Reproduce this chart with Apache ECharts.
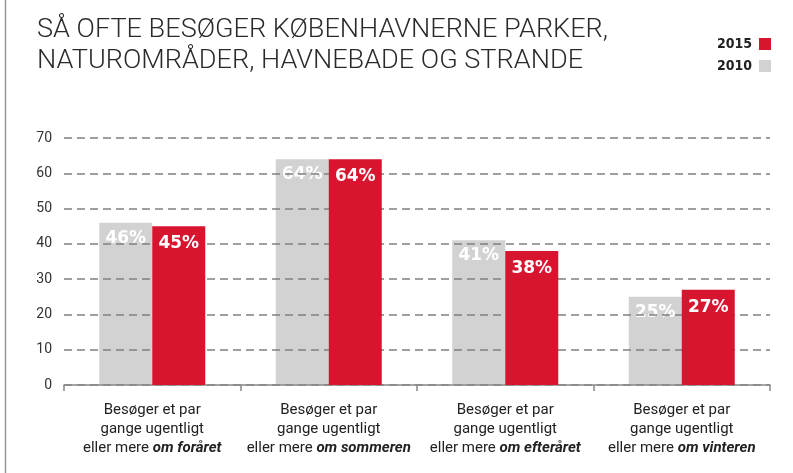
<!DOCTYPE html>
<html>
<head>
<meta charset="utf-8">
<script src="https://cdn.jsdelivr.net/npm/echarts@6/dist/echarts.min.js"></script>
<style>
  html, body { margin: 0; padding: 0; background: #fff; }
  #chart { width: 793px; height: 473px; }
</style>
</head>
<body>
<div id="chart"></div>
<script>
// data
const seasons = ['om foråret', 'om sommeren', 'om efteråret', 'om vinteren'];
const values2010 = [46, 64, 41, 25];
const values2015 = [45, 64, 38, 27];
const titleLines = ['SÅ OFTE BESØGER KØBENHAVNERNE PARKER,', 'NATUROMRÅDER, HAVNEBADE OG STRANDE'];

const RED = '#d7152f';
const GREY = '#d2d2d2';

// the original title uses a condensed face, so fit a normal one to its width
const ctx = document.createElement('canvas').getContext('2d');
const titleFont = '300 26px Roboto';
ctx.font = titleFont;
const titleScale = 571 / ctx.measureText(titleLines[0]).width;

const chart = echarts.init(document.getElementById('chart'));

const barLabel = (dist) => ({
  show: true,
  position: 'insideTop',
  distance: dist,
  formatter: '{c}%',
  color: '#fff',
  fontFamily: '"DejaVu Sans", sans-serif',
  fontWeight: 'bold',
  fontSize: 17
});

const graphics = [
  {
    type: 'line',
    shape: { x1: 5.5, y1: 0, x2: 5.5, y2: 473 },
    style: { stroke: '#999', lineWidth: 1.5 }
  }
];
titleLines.forEach((line, i) => {
  graphics.push({
    type: 'text',
    x: 37,
    y: i === 0 ? 30 : 61,
    scaleX: titleScale,
    style: {
      text: line,
      x: 0,
      y: 0,
      font: titleFont,
      fill: '#2a2a2a',
      textAlign: 'left',
      textVerticalAlign: 'middle'
    }
  });
});

chart.setOption({
  backgroundColor: '#fff',
  animation: false,
  graphic: graphics,
  legend: {
    right: 17,
    top: 32,
    orient: 'vertical',
    align: 'right',
    itemWidth: 12,
    itemHeight: 12,
    itemGap: 8,
    icon: 'rect',
    data: ['2015', '2010'],
    textStyle: {
      fontFamily: '"DejaVu Sans Condensed", sans-serif',
      fontWeight: 'bold',
      fontSize: 14,
      color: '#222',
      padding: [0, 2, 0, 0]
    }
  },
  grid: { left: 64, right: 23, top: 138, bottom: 88 },
  xAxis: {
    type: 'category',
    data: seasons,
    z: 3,
    axisLine: { lineStyle: { color: '#888', width: 1.5 } },
    axisTick: { show: true, length: 6, lineStyle: { color: '#888', width: 1.5 } },
    axisLabel: {
      margin: 16,
      interval: 0,
      formatter: (v) => 'Besøger et par\ngange ugentligt\neller mere {b|' + v + '}',
      fontFamily: 'Roboto, sans-serif',
      fontSize: 15,
      lineHeight: 19,
      color: '#222',
      rich: {
        b: {
          fontFamily: 'Roboto, sans-serif',
          fontSize: 15,
          lineHeight: 19,
          fontWeight: 'bold',
          fontStyle: 'italic',
          color: '#222'
        }
      }
    }
  },
  yAxis: {
    type: 'value',
    min: 0,
    max: 70,
    interval: 10,
    z: 3,
    axisLine: { show: false },
    axisTick: { show: false },
    axisLabel: {
      margin: 12,
      fontFamily: 'Roboto, sans-serif',
      fontSize: 14,
      color: '#333'
    },
    splitLine: {
      lineStyle: { color: '#808080', type: [8, 5], width: 1.5 }
    }
  },
  series: [
    {
      name: '2010',
      type: 'bar',
      data: values2010,
      barWidth: 53,
      barGap: '0%',
      z: 2,
      itemStyle: { color: GREY },
      label: barLabel(7)
    },
    {
      name: '2015',
      type: 'bar',
      data: values2015,
      barWidth: 53,
      barGap: '0%',
      z: 4,
      itemStyle: { color: RED },
      label: barLabel(9)
    }
  ]
});
</script>
</body>
</html>
